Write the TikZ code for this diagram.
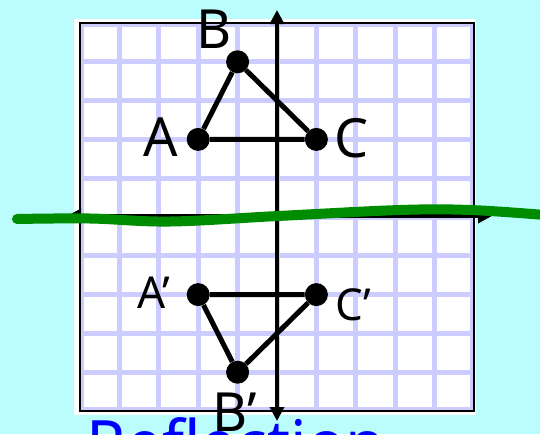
\documentclass[tikz,border=0pt]{standalone}
\usepackage{fontspec}
\setmainfont{Noto Sans}
\usetikzlibrary{arrows.meta}
\definecolor{bgcyan}{RGB}{187,253,253}
\definecolor{gridlav}{RGB}{204,204,255}
\definecolor{pengreen}{RGB}{0,140,0}
\definecolor{penblue}{RGB}{0,0,255}
\begin{document}
\begin{tikzpicture}[x=1pt,y=-1pt,
  dot/.style={circle,fill=black,inner sep=0pt,minimum size=23pt},
  edge/.style={line width=5pt},
  axis/.style={line width=4pt,{Triangle[length=14pt,width=14pt]}-{Triangle[length=14pt,width=14pt]}},
  lbl/.style={inner sep=0pt,font=\fontsize{54}{54}\selectfont},
  plbl/.style={inner sep=0pt,font=\fontsize{44}{44}\selectfont},
  gridline/.style={gridlav,line width=5pt},
]
\fill[bgcyan] (0,0) rectangle (540,434);
\useasboundingbox (0,0) rectangle (540,434);
% panel
\fill[white] (74,19) rectangle (476,415);
\foreach \i in {1,...,9} {
  \draw[gridline] ({80+39.4*\i},23) -- ({80+39.4*\i},411);
  \draw[gridline] (80,{23+38.8*\i}) -- (474,{23+38.8*\i});
}
\draw[gridlav,line width=3pt] (82.5,25.5) rectangle (471.5,408.5);
\draw[black,line width=2pt] (80,23) rectangle (474,411);
% axes
\coordinate (yt) at (277,10);
\coordinate (yb) at (277,421);
\coordinate (xl) at (67,216);
\coordinate (xr) at (492,216);
\draw[axis] (yb) -- (yt);
\draw[axis] (xl) -- (xr);
% mirror line
\draw[pengreen,line width=10pt,line cap=round] plot[smooth,tension=0.6] coordinates
  {(17,219) (90,218.5) (170,221.5) (278,216) (400,210) (470,210) (545,215)};
% triangles
\node[dot] (A) at (198.2,139.4) {};
\node[dot] (B) at (237.6,61.8) {};
\node[dot] (C) at (316.4,139.4) {};
\node[dot] (A1) at (198.2,294.6) {};
\node[dot] (B1) at (237.6,372.2) {};
\node[dot] (C1) at (316.4,294.6) {};
\draw[edge,line join=round] (A) -- (B) -- (C) -- (A);
\draw[edge,line join=round] (A1) -- (B1) -- (C1) -- (A1);
% labels
\node[lbl] (lB) at (214,29) {B};
\node[lbl] (lA) at (161,137) {A};
\node[lbl] (lC) at (352,138) {C};
\node[plbl,anchor=base west] (lA1) at (137,308) {A\char"27};
\node[plbl,anchor=base west] (lC1) at (335,320) {C\char"27};
\node[lbl,anchor=base west] (lB1) at (212,431) {B\char"27};
% cut-off title
\node[anchor=north west,inner sep=0pt,text=penblue,font=\fontsize{64}{64}\bfseries\selectfont] (title) at (86,417) {Reflection};
\end{tikzpicture}
\end{document}
